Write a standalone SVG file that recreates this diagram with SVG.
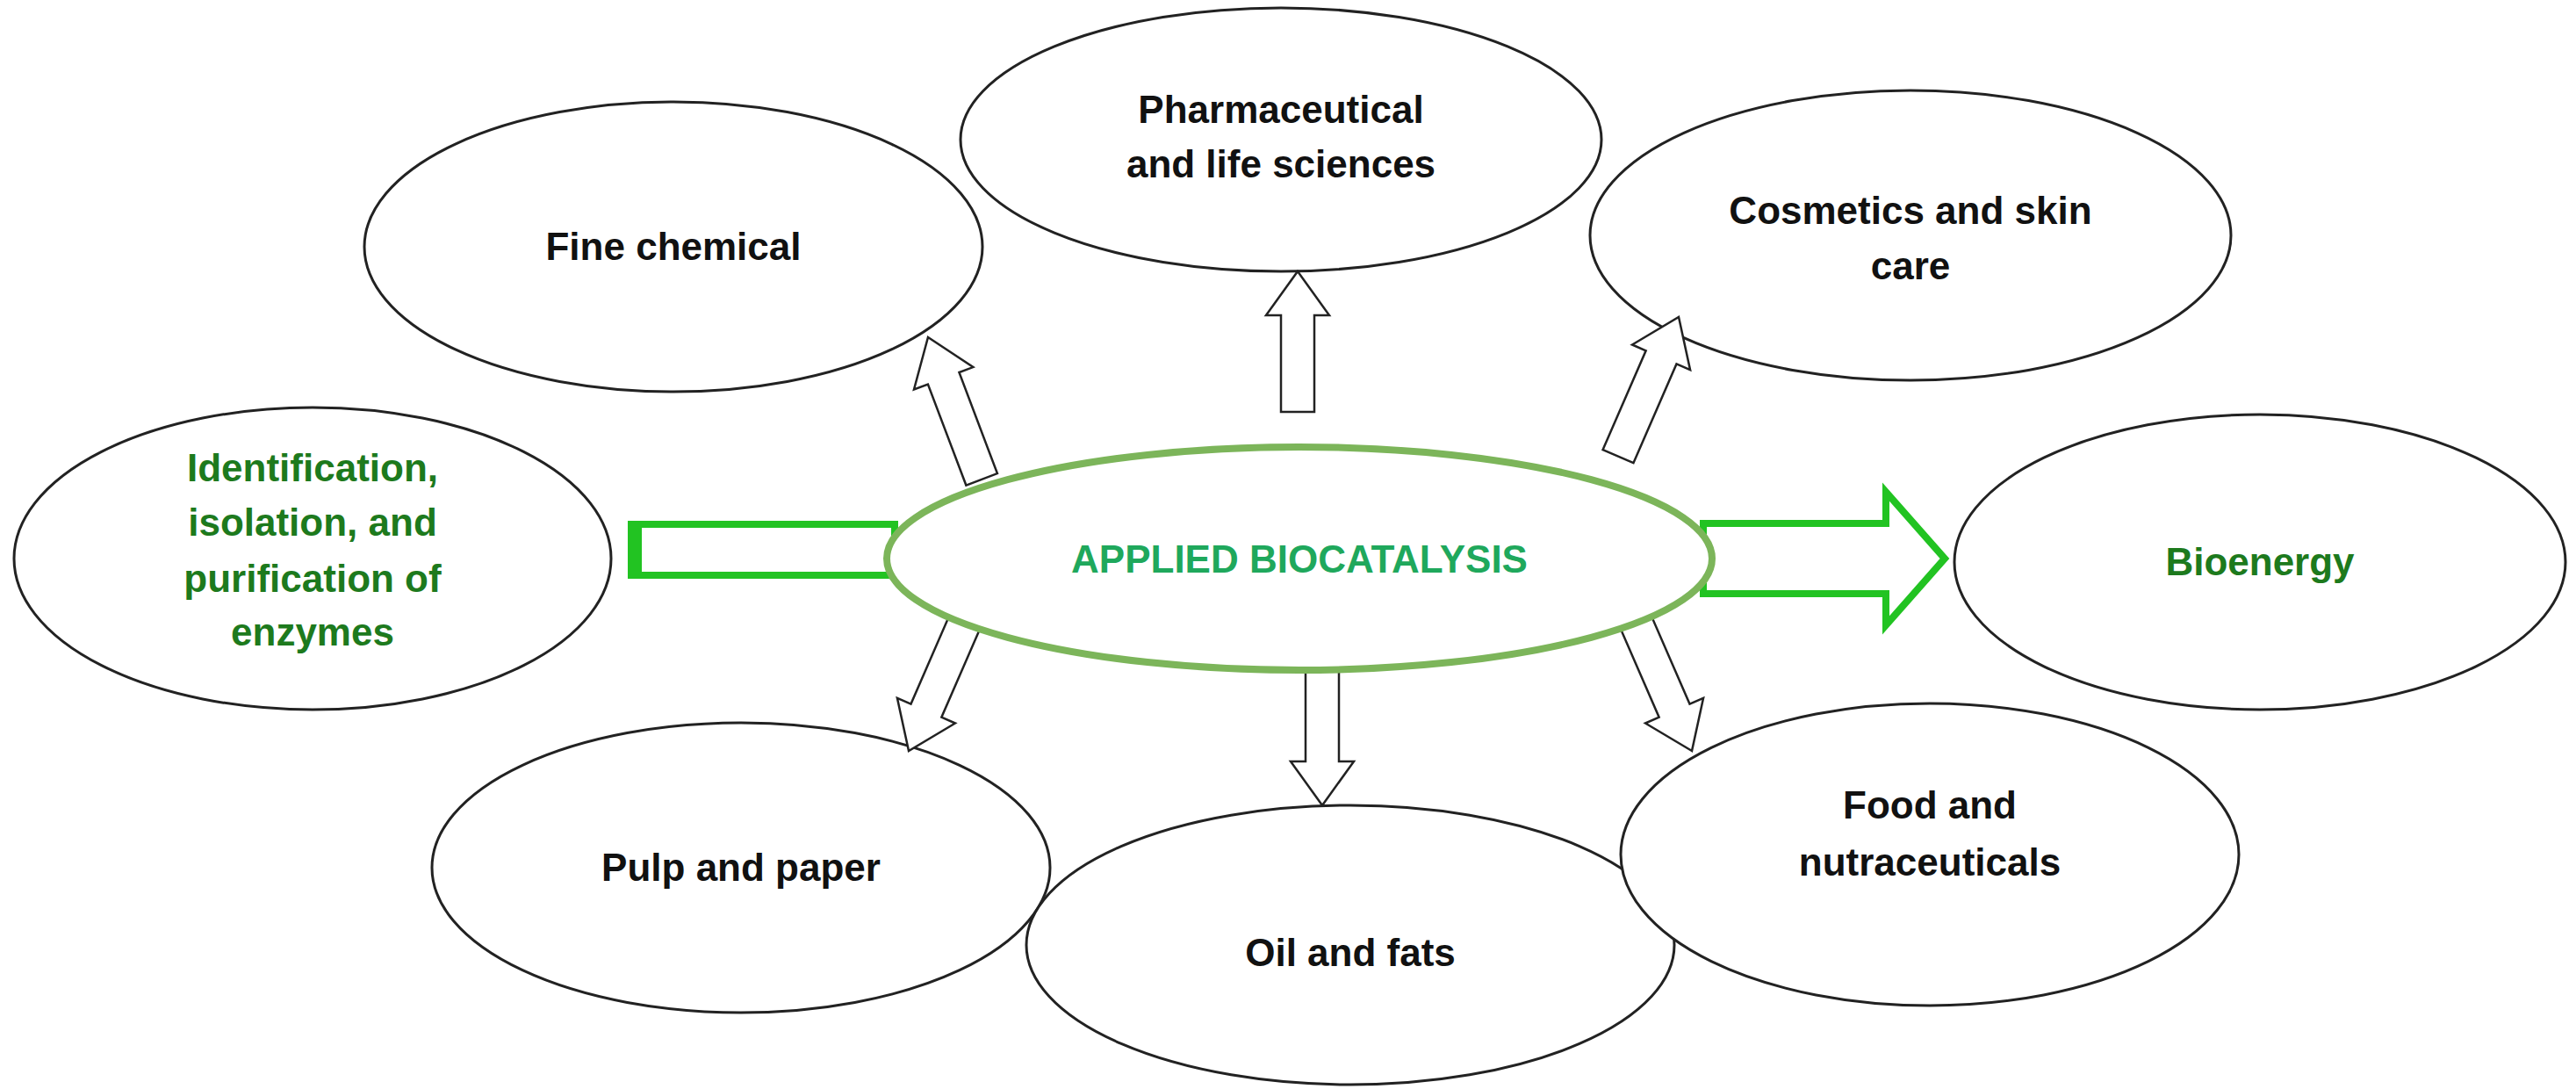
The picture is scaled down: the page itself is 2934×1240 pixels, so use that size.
<svg xmlns="http://www.w3.org/2000/svg" width="2934" height="1240" viewBox="0 0 2934 1240">
<style>
.n{fill:#fff;stroke:#222;stroke-width:3}
.t{font-family:"Liberation Sans",Arial,sans-serif;font-weight:bold;font-size:44px;fill:#111;text-anchor:middle}
.g{fill:#1d7a1d}
.ha{fill:#fff;stroke:#222;stroke-width:2.5}
</style>
<defs>
<path id="ha" d="M0,0 L36,50 L19,50 L19,160 L-19,160 L-19,50 L-36,50 Z"/>
<path id="hb" d="M0,0 L36,50 L19,50 L19,173 L-19,173 L-19,50 L-36,50 Z"/>
</defs>
<g id="fine"><ellipse class="n" cx="767" cy="281" rx="352" ry="165"/><text class="t" x="767" y="296">Fine chemical</text></g>
<g id="pharma"><ellipse class="n" cx="1459" cy="159" rx="365" ry="150"/><text class="t" x="1459" y="140">Pharmaceutical</text><text class="t" x="1459" y="202">and life sciences</text></g>
<g id="cosmetics"><ellipse class="n" cx="2176" cy="268" rx="365" ry="165"/><text class="t" x="2176" y="255">Cosmetics and skin</text><text class="t" x="2176" y="318">care</text></g>
<g id="ident"><ellipse class="n" cx="356" cy="636" rx="340" ry="172"/>
<text class="t g" x="356" y="548">Identification,</text><text class="t g" x="356" y="610">isolation, and</text><text class="t g" x="356" y="674">purification  of</text><text class="t g" x="356" y="735">enzymes</text></g>
<g id="bioenergy"><ellipse class="n" cx="2574" cy="640" rx="348" ry="168"/><text class="t g" x="2574" y="655">Bioenergy</text></g>
<g id="pulp"><ellipse class="n" cx="844" cy="988" rx="352" ry="165"/><text class="t" x="844" y="1003">Pulp and paper</text></g>
<g id="oil"><ellipse class="n" cx="1538" cy="1076" rx="369" ry="159"/><text class="t" x="1538" y="1100">Oil and fats</text></g>
<g id="food"><ellipse class="n" cx="2198" cy="973" rx="352" ry="172"/><text class="t" x="2198" y="932">Food and</text><text class="t" x="2198" y="997">nutraceuticals</text></g>
<g id="connectors">
<use href="#hb" class="ha" transform="translate(1057,384) rotate(-20.7)"/>
<use href="#ha" class="ha" transform="translate(1478,309)"/>
<use href="#hb" class="ha" transform="translate(1912,361) rotate(23.5)"/>
<use href="#hb" class="ha" transform="translate(1035,855) rotate(-156.5)"/>
<use href="#ha" class="ha" transform="translate(1506,917) rotate(180)"/>
<use href="#hb" class="ha" transform="translate(1927,855) rotate(156.5)"/>
<rect x="719" y="597" width="300" height="58" fill="#fff" stroke="#22c322" stroke-width="8"/>
<rect x="715" y="593" width="16" height="66" fill="#22c322"/>
<path d="M1940,596 L2148,596 L2148,560 L2215,636 L2148,712 L2148,676 L1940,676 Z" fill="#fff" stroke="#22c322" stroke-width="8"/>
</g>
<g id="center"><ellipse cx="1480" cy="636" rx="470" ry="127" fill="#fff" stroke="#7cb55a" stroke-width="8"/>
<text x="1480" y="652" font-family="Liberation Sans,Arial,sans-serif" font-weight="bold" font-size="44" fill="#1fa85c" text-anchor="middle">APPLIED BIOCATALYSIS</text></g>
</svg>
